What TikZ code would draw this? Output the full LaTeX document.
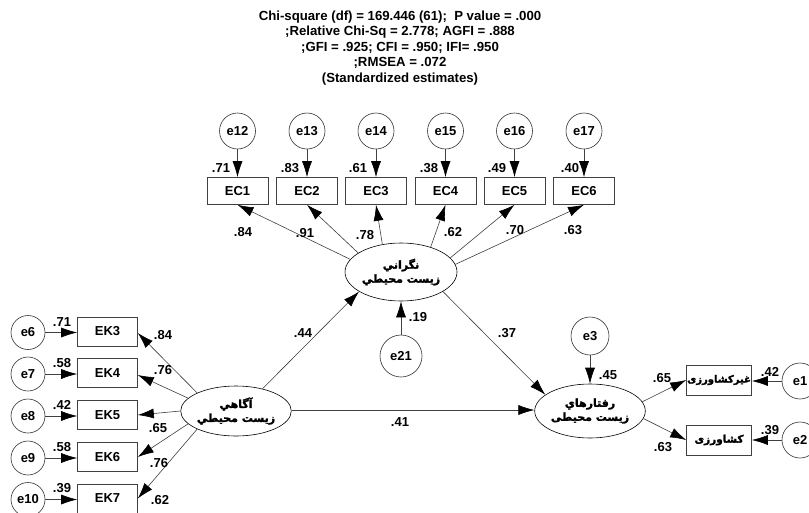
\documentclass[tikz,border=0pt]{standalone}
\usepackage{fontspec}
\setmainfont{Liberation Sans}
\newfontfamily\arabicfont[Script=Arabic,FakeBold=2]{DejaVu Sans}
\TeXXeTstate=1
\usetikzlibrary{shapes.geometric,arrows.meta}
% Persian text, set right to left
\newcommand\fatext[1]{{\arabicfont\beginR #1\endR}}

\begin{document}
\begin{tikzpicture}[x=1pt,y=-1pt,
  every node/.style={font=\bfseries\fontsize{13}{15}\selectfont},
  lat/.style={ellipse, draw, line width=0.6pt, inner sep=0pt, align=center,
    font=\bfseries\fontsize{11}{14}\selectfont},
  obs/.style={rectangle, draw=black!75, line width=0.6pt, minimum width=61pt,
    minimum height=27pt, inner sep=0pt},
  err/.style={circle, draw=black!80, line width=0.6pt, minimum size=36pt, inner sep=0pt},
  arr/.style={draw=black!75, line width=0.6pt, -{Latex[length=16pt,width=10pt,color=black]}},
  lbl/.style={inner sep=0pt}]
\clip (0,0) rectangle (809,512);
\fill[white] (0,0) rectangle (809,512);

% fit summary
\node[align=center, inner sep=0pt, font=\bfseries\fontsize{13.2}{15.5}\selectfont] (title) at (400,48)
  {Chi-square (df) = 169.446 (61);\ \ P value = .000\\
   ;Relative Chi-Sq = 2.778; AGFI = .888\\
   ;GFI = .925; CFI = .950; IFI= .950\\
   ;RMSEA = .072\\
   (Standardized estimates)};

% latent variables
\node[lat, minimum width=112pt, minimum height=58pt] (nag) at (401,272)
  {\fatext{نگراني}\\ \fatext{زيست محيطي}};
\node[lat, minimum width=102pt, minimum height=50pt] (agahi) at (236,411)
  {\fatext{آگاهي}\\ \fatext{زيست محيطي}};
\node[lat, minimum width=108pt, minimum height=54pt] (raftar) at (590,411)
  {\fatext{رفتارهاي}\\ \fatext{زيست محيطی}};

% indicators of the upper latent
\foreach \i/\x in {1/237.5,2/307,3/376,4/445.5,5/514.5,6/584}{
  \node[obs] (EC\i) at (\x,191) {EC\i};
}
\foreach \i/\e in {1/12,2/13,3/14,4/15,5/16,6/17}{
  \node[err] (e\e) at (EC\i |- 0,131) {e\e};
  \draw[arr] (e\e) -- (EC\i);
}

% indicators of the left latent
\foreach \i/\y/\e in {3/331.5/6,4/373/7,5/415/8,6/457/9,7/498.5/10}{
  \node[obs, minimum width=60pt, minimum height=29pt] (EK\i) at (107.5,\y) {EK\i};
  \node[err, minimum size=34pt] (e\e) at (28,\y+1) {e\e};
  \draw[arr] (e\e) -- (e\e -| EK\i.west);
}

% indicators of the right latent
\node[obs, minimum width=65pt, minimum height=30pt] (ghk) at (719,380)
  {\fontsize{10}{12}\selectfont\fatext{غيرکشاورزی}};
\node[obs, minimum width=65pt, minimum height=30pt] (kesh) at (719,440)
  {\fontsize{10.5}{12}\selectfont\fatext{کشاورزی}};
\node[err] (e1) at (800,381) {e1};
\node[err] (e2) at (800,440) {e2};
\draw[arr] (e1) -- (e1 -| ghk.east);
\draw[arr] (e2) -- (e2 -| kesh.east);

% disturbances
\node[err, minimum size=42pt] (e21) at (401,356) {e21};
\node[err, minimum size=38pt] (e3) at (590,336) {e3};
\draw[arr] (e21) -- (nag);
\draw[arr] (e3) -- (raftar);

% loadings
\draw[arr] (nag.166) -- (EC1.south);
\draw[arr] (nag.156) -- (EC2.south);
\draw[arr] (nag.124) -- (EC3.south);
\draw[arr] (nag.40) -- (EC4.south);
\draw[arr] (nag.16) -- (EC5.south);
\draw[arr] (nag.8) -- (EC6.south);

\draw[arr] (agahi.155) -- ([yshift=-1.5pt]EK3.east);
\draw[arr] (agahi.165) -- ([yshift=-2pt]EK4.east);
\draw[arr] (agahi.180) -- (EK5.east);
\draw[arr] (agahi.195) -- (EK6.east);
\draw[arr] (agahi.205) -- (EK7.east);

\draw[arr] (raftar.10) -- (ghk.west);
\draw[arr] (raftar.-8) -- (kesh.west);

% structural paths
\draw[arr] (agahi.40) -- (nag.205);
\draw[arr] (nag.-25) -- (raftar.160);
\draw[arr] (agahi.east |- 0,410) -- (raftar.west |- 0,410);

% estimates
\foreach \t/\x/\y in {.71/221/168,.83/290/168,.61/358/168,.38/429/168,.49/497/168,.40/570/168,
  .84/243/232,.91/305/233,.78/365/235,.62/453/232,.70/515/230,.63/573/230,
  .71/62/322,.58/62/363,.42/62/405,.58/62/447,.39/62/488,
  .84/163/335,.76/163/370,.65/158/428,.76/159/463,.62/160/500,
  .44/303/333,.19/418/317,.37/507/333,.41/400/422,.45/608/375,
  .65/662/378,.63/663/447,.42/770/372,.39/770/430}{
  \node[lbl] at (\x,\y) {\t};
}
\end{tikzpicture}
\end{document}
